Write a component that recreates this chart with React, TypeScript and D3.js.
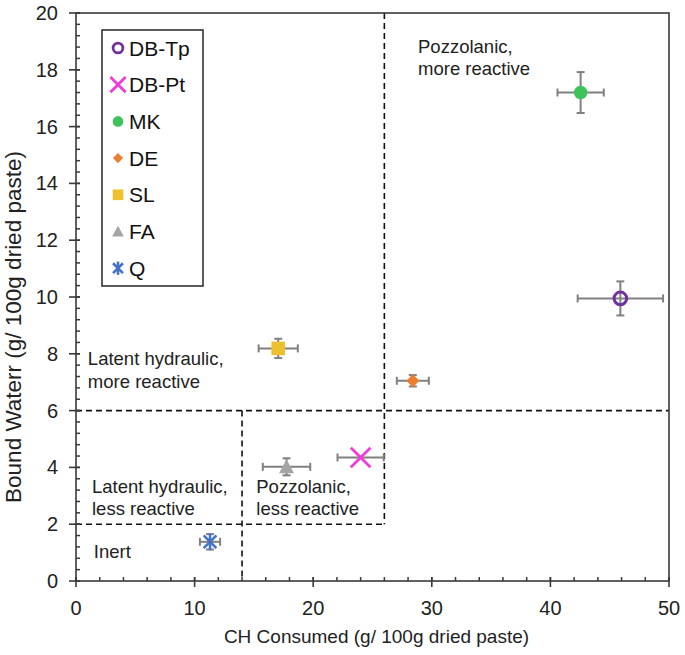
import React from "react";
import * as d3 from "d3";

const seriesNames = ["DB-Tp", "DB-Pt", "MK", "DE", "SL", "FA", "Q"];
const chConsumed = [45.9, 24.0, 42.55, 28.4, 17.05, 17.75, 11.3];
const boundWater = [9.95, 4.35, 17.2, 7.05, 8.19, 4.02, 1.38];
const chErr = [3.6, 1.95, 1.95, 1.35, 1.65, 2.0, 0.85];
const bwErr = [0.6, 0, 0.72, 0.2, 0.34, 0.3, 0.27];
const seriesColors = ["#7030A0", "#F03CD8", "#3DC35A", "#ED7D31", "#EDC02E", "#A5A5A5", "#4472C4"];
const xTicks = [0, 10, 20, 30, 40, 50];
const yTicks = [0, 2, 4, 6, 8, 10, 12, 14, 16, 18, 20];
// region boundary lines [x1,y1,x2,y2] in data units
const boundaries = [
  [0, 6, 50, 6],
  [26, 20, 26, 2],
  [0, 2, 26, 2],
  [14, 6, 14, 0],
];
const regionLabels = [
  { x: 28.84, y: 18.6, lines: ["Pozzolanic,", "more reactive"] },
  { x: 1.0, y: 7.6, lines: ["Latent hydraulic,", "more reactive"] },
  { x: 1.35, y: 3.1, lines: ["Latent hydraulic,", "less reactive"] },
  { x: 15.2, y: 3.1, lines: ["Pozzolanic,", "less reactive"] },
  { x: 1.5, y: 0.8, lines: ["Inert"] },
];

const W = 685, H = 655;
const L = 76, R = 669, T = 13, B = 581;
const FONT = "Liberation Sans, Arial, sans-serif";

function Marker({ i, cx, cy, s }: { i: number; cx: number; cy: number; s: number }) {
  const c = seriesColors[i];
  switch (i) {
    case 0:
      return <circle cx={cx} cy={cy} r={6.3 * s} fill="none" stroke={c} strokeWidth={3 * Math.min(1, s + 0.15)} />;
    case 1: {
      const h = 9.8 * s;
      return (
        <g stroke={c} strokeWidth={2.8}>
          <line x1={cx - h} y1={cy - h} x2={cx + h} y2={cy + h} />
          <line x1={cx - h} y1={cy + h} x2={cx + h} y2={cy - h} />
        </g>
      );
    }
    case 2:
      return <circle cx={cx} cy={cy} r={6.8 * s} fill={c} />;
    case 3: {
      const h = 6.5 * s;
      return <path d={`M${cx},${cy - h}L${cx + h},${cy}L${cx},${cy + h}L${cx - h},${cy}Z`} fill={c} />;
    }
    case 4: {
      const h = 6.8 * s;
      return <rect x={cx - h} y={cy - h} width={2 * h} height={2 * h} fill={c} />;
    }
    case 5: {
      const h = 7.5 * s;
      return <path d={`M${cx},${cy - h}L${cx + h},${cy + h * 0.85}L${cx - h},${cy + h * 0.85}Z`} fill={c} />;
    }
    default: {
      const h = 8.5 * s;
      const d = h * 0.75;
      return (
        <g stroke={c} strokeWidth={2.6}>
          <line x1={cx - d} y1={cy - d} x2={cx + d} y2={cy + d} />
          <line x1={cx - d} y1={cy + d} x2={cx + d} y2={cy - d} />
          <line x1={cx} y1={cy - h} x2={cx} y2={cy + h} />
        </g>
      );
    }
  }
}

export default function App() {
  const x = d3.scaleLinear().domain([0, 50]).range([L, R]);
  const y = d3.scaleLinear().domain([0, 20]).range([B, T]);
  const xMinor = d3.range(0, 50.01, 2);
  const yMinor = d3.range(0, 20.01, 0.4);
  const axisColor = "#3a3a3a";
  const errColor = "#808080";
  const cap = 4;

  return (
    <svg width={W} height={H} style={{ position: "absolute", left: 0, top: 0, background: "#fff" }} fontFamily={FONT}>
      <rect width={W} height={H} fill="#fff" />
      {/* boundaries */}
      {boundaries.map((b, k) => (
        <line key={k} x1={x(b[0])} y1={y(b[1])} x2={x(b[2])} y2={y(b[3])} stroke="#111" strokeWidth={1.6} strokeDasharray="6,4" />
      ))}
      {/* region labels */}
      {regionLabels.map((r, k) => (
        <text key={k} x={x(r.x)} y={y(r.y)} fontSize={18.5} fill="#222">
          {r.lines.map((ln, j) => (
            <tspan key={j} x={x(r.x)} dy={j === 0 ? 0 : 22.5}>{ln}</tspan>
          ))}
        </text>
      ))}
      {/* frame */}
      <rect x={L} y={T} width={R - L} height={B - T} fill="none" stroke={axisColor} strokeWidth={1.6} />
      {/* minor ticks */}
      {xMinor.map((v) => (
        <line key={"xm" + v} x1={x(v)} x2={x(v)} y1={B} y2={B - 4} stroke={axisColor} strokeWidth={1.5} />
      ))}
      {yMinor.map((v) => (
        <line key={"ym" + v} x1={L} x2={L + 4} y1={y(v)} y2={y(v)} stroke={axisColor} strokeWidth={1.5} />
      ))}
      {/* major ticks & labels */}
      {xTicks.map((v) => (
        <g key={"xt" + v}>
          <line x1={x(v)} x2={x(v)} y1={B - 4} y2={B + 6} stroke={axisColor} strokeWidth={1.6} />
          <text x={x(v)} y={B + 34} textAnchor="middle" fontSize={20} fill="#222">{v}</text>
        </g>
      ))}
      {yTicks.map((v) => (
        <g key={"yt" + v}>
          <line x1={L - 7} x2={L + 4} y1={y(v)} y2={y(v)} stroke={axisColor} strokeWidth={1.6} />
          <text x={L - 18} y={y(v) + 7} textAnchor="end" fontSize={20} fill="#222">{v}</text>
        </g>
      ))}
      {/* axis titles */}
      <text x={(L + R) / 2 + 4} y={643} textAnchor="middle" fontSize={19} fill="#222">CH Consumed (g/ 100g dried paste)</text>
      <text transform={`translate(21,${(T + B) / 2 + 30}) rotate(-90)`} textAnchor="middle" fontSize={22.5} fill="#222">Bound Waterr (g/ 100g dried paste)</text>
      {/* error bars */}
      {seriesNames.map((_, i) => {
        const cx = x(chConsumed[i]);
        const cy = y(boundWater[i]);
        const x0 = x(chConsumed[i] - chErr[i]);
        const x1 = x(chConsumed[i] + chErr[i]);
        const y0 = y(boundWater[i] - bwErr[i]);
        const y1 = y(boundWater[i] + bwErr[i]);
        return (
          <g key={"e" + i} stroke={errColor} strokeWidth={2}>
            {chErr[i] > 0 && (
              <>
                <line x1={x0} x2={x1} y1={cy} y2={cy} />
                <line x1={x0} x2={x0} y1={cy - cap} y2={cy + cap} />
                <line x1={x1} x2={x1} y1={cy - cap} y2={cy + cap} />
              </>
            )}
            {bwErr[i] > 0 && (
              <>
                <line x1={cx} x2={cx} y1={y0} y2={y1} />
                <line x1={cx - cap} x2={cx + cap} y1={y0} y2={y0} />
                <line x1={cx - cap} x2={cx + cap} y1={y1} y2={y1} />
              </>
            )}
          </g>
        );
      })}
      {/* markers */}
      {seriesNames.map((_, i) => (
        <Marker key={"m" + i} i={i} cx={x(chConsumed[i])} cy={y(boundWater[i])} s={1} />
      ))}
      {/* legend */}
      <rect x={102} y={30} width={101} height={256} fill="#fff" stroke="#333" strokeWidth={1.6} />
      {seriesNames.map((n, i) => {
        const cy = 48 + i * 36.7;
        return (
          <g key={"l" + i}>
            <Marker i={i} cx={118} cy={cy} s={0.78} />
            <text x={129} y={cy + 7.5} fontSize={21} fill="#111">{n}</text>
          </g>
        );
      })}
    </svg>
  );
}
